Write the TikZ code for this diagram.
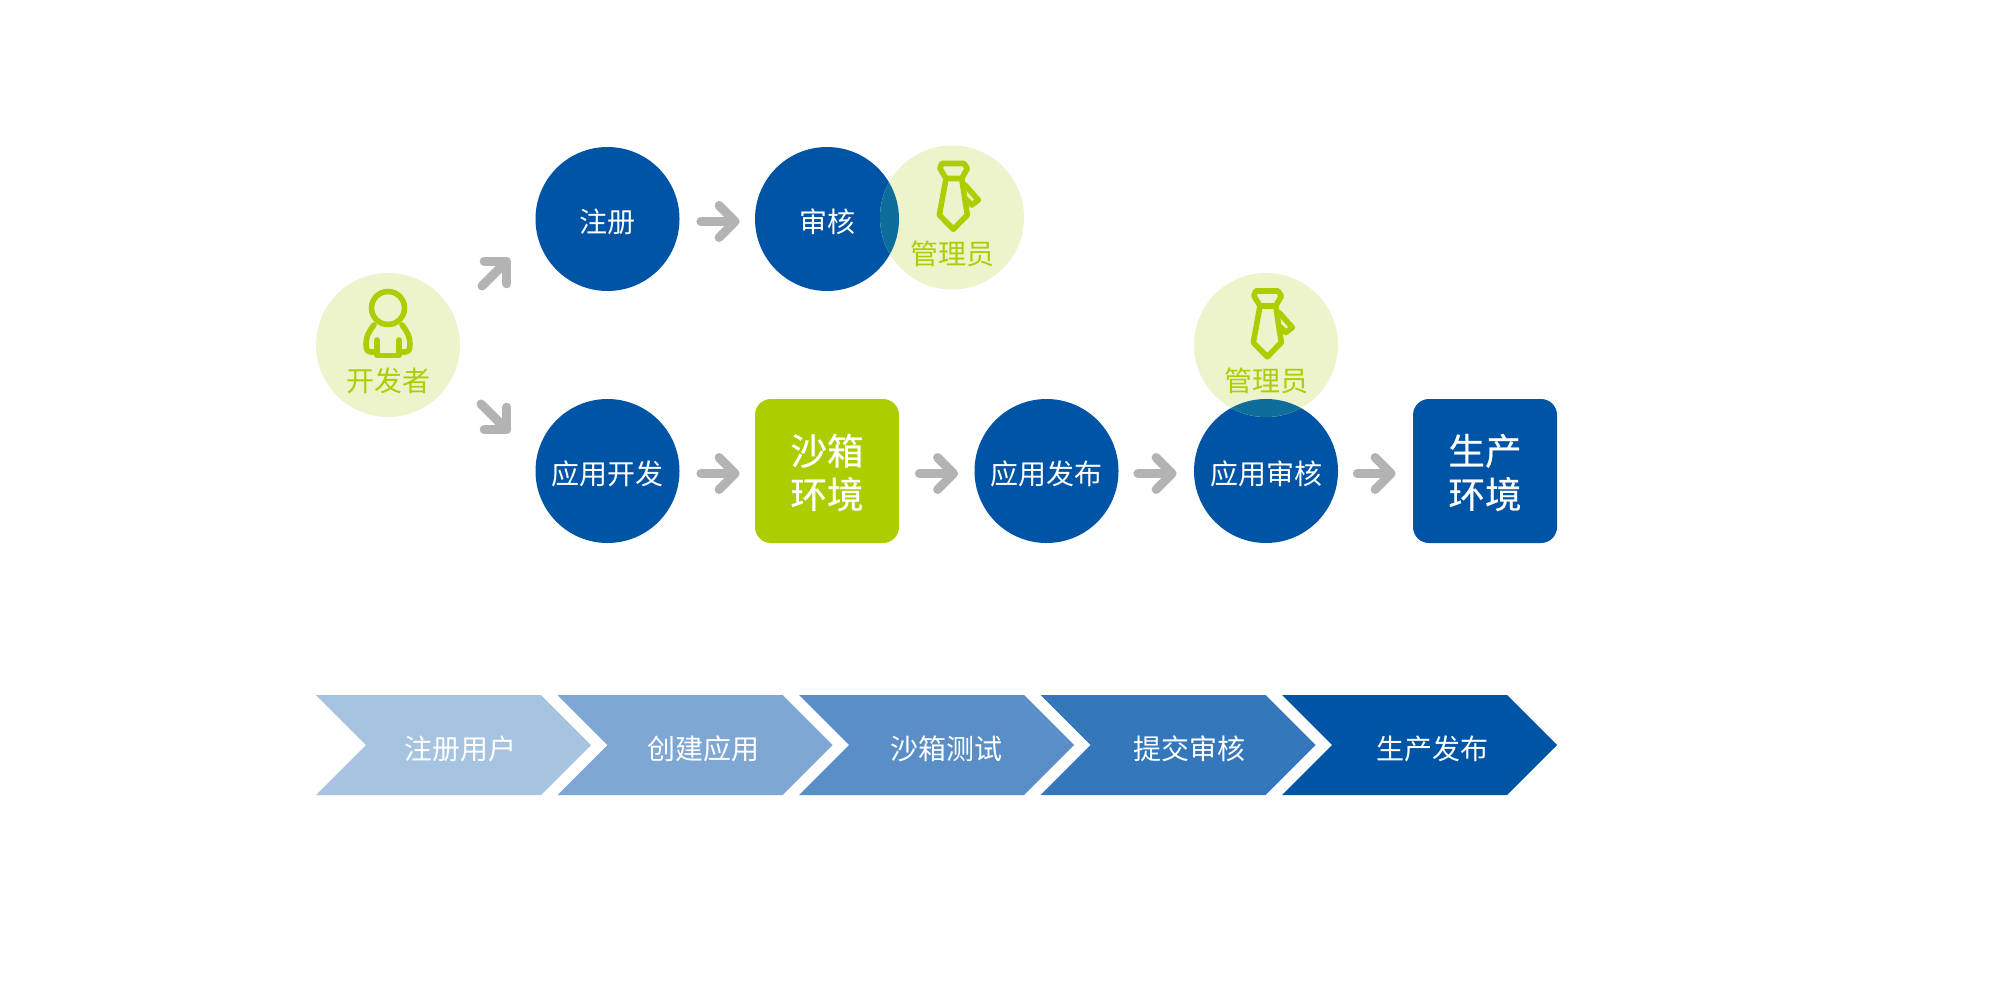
\documentclass[tikz,border=0pt]{standalone}
\usepackage{fontspec}
\setmainfont{Noto Sans CJK SC}
\newfontfamily\heavyface[FakeBold=0.5]{Noto Sans CJK SC}
\usetikzlibrary{arrows.meta}
\definecolor{deep}{HTML}{0054A6}
\definecolor{leaf}{HTML}{ACCE00}
\definecolor{paleleaf}{HTML}{EDF4CC}
\definecolor{tealmix}{HTML}{0E6D9A}
\definecolor{rail}{HTML}{B3B3B3}
\definecolor{stepa}{HTML}{A6C3E0}
\definecolor{stepb}{HTML}{7FA7D3}
\definecolor{stepc}{HTML}{5A8EC6}
\definecolor{stepd}{HTML}{3577BB}
\definecolor{stepe}{HTML}{0054A6}
\tikzset{
  x=0.5pt, y=-0.5pt,
  disc/.style={circle, fill=deep, minimum size=72pt, inner sep=0pt},
  disctext/.style={text=white, inner sep=0pt, yshift=-1.25pt, font=\fontsize{14}{16}\selectfont},
  bigbox/.style={rectangle, rounded corners=8pt, minimum size=72pt, inner sep=0pt},
  boxtext/.style={text=white, inner sep=0pt, yshift=-0.75pt, align=center,
    font=\heavyface\fontsize{18.3}{21.7}\selectfont},
  role/.style={circle, fill=paleleaf, minimum size=72pt, inner sep=0pt},
  rolelabel/.style={text=leaf, inner sep=0pt, font=\fontsize{14}{16}\selectfont},
  steplabel/.style={text=white, inner sep=0pt, font=\fontsize{14}{16}\selectfont},
  icon/.style={draw=leaf, line width=2.8pt, line join=round, line cap=round},
  flow/.style={draw=rail, line width=4.5pt, line cap=round,
    -{Straight Barb[length=8pt, width=16pt, round]}},
  necktie/.pic={
    \draw[icon] (-10.3,-54) -- (12,-54) -- (15.3,-49) -- (9.7,-39) -- (-6,-39) -- (-12,-49) -- cycle;
    \draw[icon] (-6,-39) -- (-12.7,-2.5) -- (1.3,11.8) -- (15.3,-2.5) -- (9.7,-39);
    \draw[icon] (13,-32.5) -- (26.3,-17.5) -- (19.7,-12.5) -- (14.5,-18);
  },
  person/.pic={
    \draw[icon] (0,-37) circle (16.5);
    \draw[icon] (-14,-20) .. controls (-19,-14) and (-22,-8) .. (-22,-1)
      .. controls (-22,4) and (-21,7) .. (-17,7) -- (-11,7);
    \draw[icon] (14,-20) .. controls (19,-14) and (22,-8) .. (22,-1)
      .. controls (22,4) and (21,7) .. (17,7) -- (11,7);
    \draw[icon] (-11,-5) -- (-11,10.5) -- (11,10.5) -- (11,-5);
  },
}
\newcommand{\chevron}[5]{%
  \fill[#2] (#1,695) -- ++(225,0) -- ++(50,50) -- ++(-50,50) -- ++(-225,0) -- ++(50,-50) -- cycle;
  \node[steplabel] (#3) at (#4,749) {#5};
}
\begin{document}
\begin{tikzpicture}
\useasboundingbox (0,0) rectangle (2000,1001);
\fill[white] (0,0) rectangle (2000,1001);

% upper row: registration
\node[disc, label={[disctext]center:注册}] (reg) at (607.5,219) {};
\node[disc, label={[disctext]center:审核}] (audit) at (827,219) {};

% lower row: from development to production
\node[disc, label={[disctext]center:应用开发}] (dev) at (607.5,471) {};
\node[bigbox, fill=leaf, label={[boxtext]center:{沙箱\\环境}}] (sand) at (827,471) {};
\node[disc, label={[disctext]center:应用发布}] (pub) at (1046.5,471) {};
\node[disc, label={[disctext]center:应用审核}] (check) at (1266,471) {};
\node[bigbox, fill=deep, label={[boxtext]center:{生产\\环境}}] (prod) at (1485,471) {};

% actors, with the tinted overlap where they cross a blue disc
\node[role] (coder) at (388,345) {};
\node[role] (adminA) at (952,217.5) {};
\node[role] (adminB) at (1266,345) {};
\begin{scope}
  \clip (952,217.5) circle (72);
  \fill[tealmix] (827,219) circle (72);
\end{scope}
\begin{scope}
  \clip (1266,345) circle (72);
  \fill[tealmix] (1266,471) circle (72);
\end{scope}
\pic at (coder) {person};
\pic at (adminA) {necktie};
\pic at (adminB) {necktie};
\node[rolelabel] (coderText) at (388,381) {开发者};
\node[rolelabel] (adminAText) at (952,254) {管理员};
\node[rolelabel] (adminBText) at (1266,381) {管理员};

% arrows between the stages
\begin{scope}[transform canvas={yshift=-1.25pt}]
\draw[flow, shorten <=10.5pt, shorten >=7.5pt] (reg.east) -- (audit.west);
\draw[flow, shorten <=10.5pt, shorten >=7.5pt] (dev.east) -- (sand.west);
\draw[flow, shorten <=10pt, shorten >=8pt] (sand.east) -- (pub.west);
\draw[flow, shorten <=9.5pt, shorten >=8.5pt] (pub.east) -- (check.west);
\draw[flow, shorten <=9.5pt, shorten >=8.5pt] (check.east) -- (prod.west);
\end{scope}
\coordinate (upFrom) at (482,286);
\coordinate (upTo) at (510,258);
\coordinate (downFrom) at (481,404);
\coordinate (downTo) at (510,433);
\draw[flow] (upFrom) -- (upTo);
\draw[flow] (downFrom) -- (downTo);

% process band
\chevron{316}{stepa}{stepOne}{460}{注册用户}
\chevron{557.5}{stepb}{stepTwo}{703}{创建应用}
\chevron{799}{stepc}{stepThree}{946}{沙箱测试}
\chevron{1040.5}{stepd}{stepFour}{1189}{提交审核}
\chevron{1282}{stepe}{stepFive}{1432}{生产发布}
\end{tikzpicture}
\end{document}
